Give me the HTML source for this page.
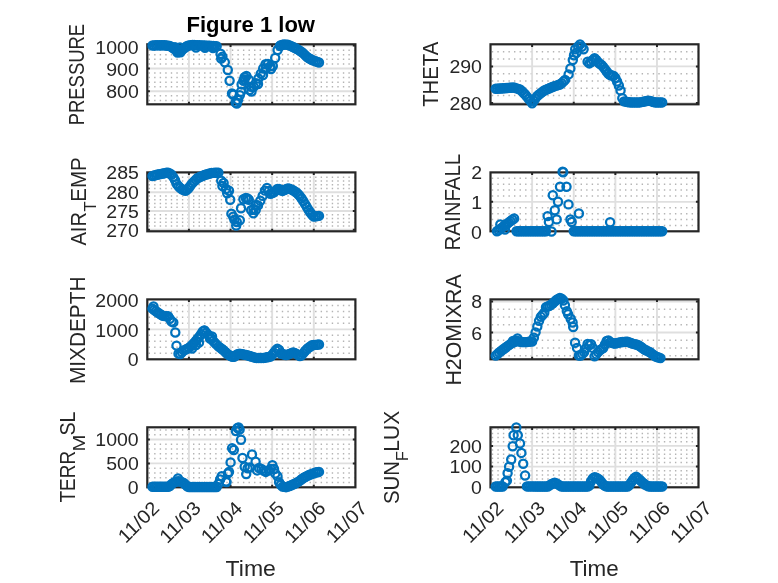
<!DOCTYPE html><html><head><meta charset="utf-8"><style>html,body{margin:0;padding:0;background:#fff;overflow:hidden}svg{display:block;will-change:transform;filter:blur(0.35px)}</style></head><body><svg width="778" height="583" viewBox="0 0 778 583">
<style>.g{stroke:#DFDFDF;stroke-width:1.9;fill:none}.mg{stroke:#B4B4B4;stroke-width:1.5;stroke-dasharray:1.4 4.15;fill:none}.bx{fill:none;stroke:#262626;stroke-width:2.2}.tk{stroke:#262626;stroke-width:2;fill:none}.d circle{fill:none;stroke:#0072BD;stroke-width:2.25}text{font-family:"Liberation Sans",sans-serif;fill:#262626}</style>
<rect width="778" height="583" fill="#fff"/>
<line x1="148.6" y1="100.44" x2="354.4" y2="100.44" class="mg"/>
<line x1="148.6" y1="95.87" x2="354.4" y2="95.87" class="mg"/>
<line x1="148.6" y1="86.73" x2="354.4" y2="86.73" class="mg"/>
<line x1="148.6" y1="82.16" x2="354.4" y2="82.16" class="mg"/>
<line x1="148.6" y1="77.59" x2="354.4" y2="77.59" class="mg"/>
<line x1="148.6" y1="73.02" x2="354.4" y2="73.02" class="mg"/>
<line x1="148.6" y1="63.88" x2="354.4" y2="63.88" class="mg"/>
<line x1="148.6" y1="59.31" x2="354.4" y2="59.31" class="mg"/>
<line x1="148.6" y1="54.74" x2="354.4" y2="54.74" class="mg"/>
<line x1="148.6" y1="50.17" x2="354.4" y2="50.17" class="mg"/>
<line x1="188.92" y1="44.3" x2="188.92" y2="104.3" class="g"/>
<line x1="230.54" y1="44.3" x2="230.54" y2="104.3" class="g"/>
<line x1="272.16" y1="44.3" x2="272.16" y2="104.3" class="g"/>
<line x1="313.78" y1="44.3" x2="313.78" y2="104.3" class="g"/>
<line x1="147.3" y1="91.3" x2="355.4" y2="91.3" class="g"/>
<line x1="147.3" y1="68.45" x2="355.4" y2="68.45" class="g"/>
<line x1="147.3" y1="45.6" x2="355.4" y2="45.6" class="g"/>
<rect x="147.3" y="44.3" width="208.1" height="60" class="bx"/>
<path d="M188.92 104.3v-2.6M188.92 44.3v2.6" class="tk"/>
<path d="M230.54 104.3v-2.6M230.54 44.3v2.6" class="tk"/>
<path d="M272.16 104.3v-2.6M272.16 44.3v2.6" class="tk"/>
<path d="M313.78 104.3v-2.6M313.78 44.3v2.6" class="tk"/>
<path d="M147.3 91.3h2.6M355.4 91.3h-2.6" class="tk"/>
<path d="M147.3 68.45h2.6M355.4 68.45h-2.6" class="tk"/>
<path d="M147.3 45.6h2.6M355.4 45.6h-2.6" class="tk"/>
<g class="d"><circle cx="152.5" cy="45.5" r="4.1"/><circle cx="154.23" cy="45.41" r="4.1"/><circle cx="155.97" cy="45.31" r="4.1"/><circle cx="157.7" cy="45.22" r="4.1"/><circle cx="159.44" cy="45.22" r="4.1"/><circle cx="161.17" cy="45.25" r="4.1"/><circle cx="162.91" cy="45.27" r="4.1"/><circle cx="164.64" cy="45.29" r="4.1"/><circle cx="166.37" cy="45.49" r="4.1"/><circle cx="168.11" cy="45.74" r="4.1"/><circle cx="169.84" cy="45.98" r="4.1"/><circle cx="171.58" cy="47.05" r="4.1"/><circle cx="173.31" cy="48.21" r="4.1"/><circle cx="175.04" cy="49.36" r="4.1"/><circle cx="176.78" cy="50.34" r="4.1"/><circle cx="178.51" cy="51.09" r="4.1"/><circle cx="180.25" cy="50.76" r="4.1"/><circle cx="181.98" cy="50.01" r="4.1"/><circle cx="183.72" cy="48.57" r="4.1"/><circle cx="185.45" cy="47.2" r="4.1"/><circle cx="187.18" cy="46.04" r="4.1"/><circle cx="188.92" cy="45.39" r="4.1"/><circle cx="190.65" cy="45.17" r="4.1"/><circle cx="192.39" cy="45.01" r="4.1"/><circle cx="194.12" cy="45.08" r="4.1"/><circle cx="195.85" cy="45.14" r="4.1"/><circle cx="197.59" cy="45.21" r="4.1"/><circle cx="199.32" cy="45.27" r="4.1"/><circle cx="201.06" cy="45.35" r="4.1"/><circle cx="202.79" cy="45.44" r="4.1"/><circle cx="204.52" cy="45.53" r="4.1"/><circle cx="206.26" cy="45.61" r="4.1"/><circle cx="207.99" cy="45.7" r="4.1"/><circle cx="209.73" cy="45.79" r="4.1"/><circle cx="211.46" cy="45.89" r="4.1"/><circle cx="213.2" cy="46" r="4.1"/><circle cx="214.93" cy="46.11" r="4.1"/><circle cx="216.66" cy="46.22" r="4.1"/><circle cx="246.4" cy="76" r="4.1"/><circle cx="248.8" cy="79.6" r="4.1"/><circle cx="251.2" cy="86.8" r="4.1"/><circle cx="253.6" cy="86.8" r="4.1"/><circle cx="256" cy="83.2" r="4.1"/><circle cx="258.4" cy="78.4" r="4.1"/><circle cx="260.8" cy="73.6" r="4.1"/><circle cx="263.2" cy="68.5" r="4.1"/><circle cx="265.6" cy="64.3" r="4.1"/><circle cx="268" cy="64" r="4.1"/><circle cx="270.4" cy="66.16" r="4.1"/><circle cx="272.8" cy="66" r="4.1"/><circle cx="275.2" cy="58" r="4.1"/><circle cx="277.6" cy="50" r="4.1"/><circle cx="280" cy="46.05" r="4.1"/><circle cx="280.83" cy="45.21" r="4.1"/><circle cx="282.56" cy="44.82" r="4.1"/><circle cx="284.3" cy="44.51" r="4.1"/><circle cx="286.03" cy="44.6" r="4.1"/><circle cx="287.76" cy="44.69" r="4.1"/><circle cx="289.5" cy="45.35" r="4.1"/><circle cx="291.23" cy="46.11" r="4.1"/><circle cx="292.97" cy="46.94" r="4.1"/><circle cx="294.7" cy="47.82" r="4.1"/><circle cx="296.44" cy="48.71" r="4.1"/><circle cx="298.17" cy="49.62" r="4.1"/><circle cx="299.9" cy="50.83" r="4.1"/><circle cx="301.64" cy="52.05" r="4.1"/><circle cx="303.37" cy="53.37" r="4.1"/><circle cx="305.11" cy="55.11" r="4.1"/><circle cx="306.84" cy="56.84" r="4.1"/><circle cx="308.57" cy="57.94" r="4.1"/><circle cx="310.31" cy="58.99" r="4.1"/><circle cx="312.04" cy="60.02" r="4.1"/><circle cx="313.78" cy="60.63" r="4.1"/><circle cx="315.51" cy="61.25" r="4.1"/><circle cx="317.25" cy="61.87" r="4.1"/><circle cx="318.98" cy="62.49" r="4.1"/><circle cx="177.5" cy="52.6" r="4.1"/><circle cx="180.5" cy="52.2" r="4.1"/><circle cx="175" cy="47.2" r="4.1"/><circle cx="180" cy="47.5" r="4.1"/><circle cx="196" cy="47.5" r="4.1"/><circle cx="205" cy="47.8" r="4.1"/><circle cx="213" cy="48" r="4.1"/><circle cx="220.6" cy="53.8" r="4.1"/><circle cx="221.2" cy="58.6" r="4.1"/><circle cx="222.4" cy="56.8" r="4.1"/><circle cx="224.8" cy="62.2" r="4.1"/><circle cx="227.8" cy="70" r="4.1"/><circle cx="229.6" cy="80.8" r="4.1"/><circle cx="232" cy="93.5" r="4.1"/><circle cx="233.2" cy="94.7" r="4.1"/><circle cx="235.6" cy="102.5" r="4.1"/><circle cx="236.8" cy="103.5" r="4.1"/><circle cx="238" cy="100" r="4.1"/><circle cx="239.8" cy="95.3" r="4.1"/><circle cx="241" cy="91.7" r="4.1"/><circle cx="241.6" cy="84.4" r="4.1"/><circle cx="243.4" cy="80.8" r="4.1"/><circle cx="244.6" cy="77.2" r="4.1"/><circle cx="249.5" cy="90" r="4.1"/><circle cx="251.5" cy="91.5" r="4.1"/><circle cx="244.5" cy="79.5" r="4.1"/><circle cx="266" cy="68.5" r="4.1"/><circle cx="271" cy="69" r="4.1"/><circle cx="258" cy="84" r="4.1"/><circle cx="263" cy="75" r="4.1"/></g>
<line x1="491.8" y1="95.6" x2="697.5" y2="95.6" class="mg"/>
<line x1="491.8" y1="88.3" x2="697.5" y2="88.3" class="mg"/>
<line x1="491.8" y1="81" x2="697.5" y2="81" class="mg"/>
<line x1="491.8" y1="73.7" x2="697.5" y2="73.7" class="mg"/>
<line x1="491.8" y1="59.1" x2="697.5" y2="59.1" class="mg"/>
<line x1="491.8" y1="51.8" x2="697.5" y2="51.8" class="mg"/>
<line x1="532.12" y1="44.3" x2="532.12" y2="104.3" class="g"/>
<line x1="573.74" y1="44.3" x2="573.74" y2="104.3" class="g"/>
<line x1="615.36" y1="44.3" x2="615.36" y2="104.3" class="g"/>
<line x1="656.98" y1="44.3" x2="656.98" y2="104.3" class="g"/>
<line x1="490.5" y1="102.9" x2="698.5" y2="102.9" class="g"/>
<line x1="490.5" y1="66.4" x2="698.5" y2="66.4" class="g"/>
<rect x="490.5" y="44.3" width="208" height="60" class="bx"/>
<path d="M532.12 104.3v-2.6M532.12 44.3v2.6" class="tk"/>
<path d="M573.74 104.3v-2.6M573.74 44.3v2.6" class="tk"/>
<path d="M615.36 104.3v-2.6M615.36 44.3v2.6" class="tk"/>
<path d="M656.98 104.3v-2.6M656.98 44.3v2.6" class="tk"/>
<path d="M490.5 102.9h2.6M698.5 102.9h-2.6" class="tk"/>
<path d="M490.5 66.4h2.6M698.5 66.4h-2.6" class="tk"/>
<g class="d"><circle cx="495.7" cy="88.8" r="4.1"/><circle cx="497.43" cy="88.68" r="4.1"/><circle cx="499.17" cy="88.57" r="4.1"/><circle cx="500.9" cy="88.45" r="4.1"/><circle cx="502.64" cy="88.33" r="4.1"/><circle cx="504.37" cy="88.22" r="4.1"/><circle cx="506.1" cy="88.08" r="4.1"/><circle cx="507.84" cy="87.95" r="4.1"/><circle cx="509.57" cy="87.82" r="4.1"/><circle cx="511.31" cy="87.68" r="4.1"/><circle cx="513.04" cy="87.55" r="4.1"/><circle cx="514.78" cy="87.83" r="4.1"/><circle cx="516.51" cy="88.36" r="4.1"/><circle cx="518.24" cy="88.9" r="4.1"/><circle cx="519.98" cy="89.43" r="4.1"/><circle cx="521.71" cy="91.01" r="4.1"/><circle cx="523.45" cy="92.75" r="4.1"/><circle cx="525.18" cy="94.48" r="4.1"/><circle cx="526.91" cy="96.59" r="4.1"/><circle cx="528.65" cy="98.76" r="4.1"/><circle cx="530.38" cy="100.93" r="4.1"/><circle cx="532.12" cy="103.33" r="4.1"/><circle cx="533.85" cy="100.83" r="4.1"/><circle cx="535.59" cy="98.33" r="4.1"/><circle cx="537.32" cy="95.9" r="4.1"/><circle cx="539.05" cy="94.52" r="4.1"/><circle cx="540.79" cy="93.13" r="4.1"/><circle cx="542.52" cy="91.74" r="4.1"/><circle cx="544.26" cy="90.56" r="4.1"/><circle cx="545.99" cy="89.79" r="4.1"/><circle cx="547.73" cy="89.03" r="4.1"/><circle cx="549.46" cy="88.27" r="4.1"/><circle cx="551.19" cy="87.51" r="4.1"/><circle cx="552.93" cy="86.76" r="4.1"/><circle cx="554.66" cy="86.18" r="4.1"/><circle cx="556.4" cy="85.6" r="4.1"/><circle cx="558.13" cy="85.02" r="4.1"/><circle cx="559.86" cy="84.45" r="4.1"/><circle cx="561.6" cy="83.25" r="4.1"/><circle cx="563.33" cy="81.59" r="4.1"/><circle cx="565.07" cy="79.93" r="4.1"/><circle cx="587.61" cy="61.63" r="4.1"/><circle cx="589.34" cy="63.43" r="4.1"/><circle cx="591.08" cy="62.06" r="4.1"/><circle cx="592.81" cy="59.99" r="4.1"/><circle cx="594.55" cy="58.25" r="4.1"/><circle cx="596.28" cy="59.98" r="4.1"/><circle cx="598.02" cy="62.29" r="4.1"/><circle cx="599.75" cy="63.7" r="4.1"/><circle cx="601.48" cy="64.86" r="4.1"/><circle cx="603.22" cy="66.82" r="4.1"/><circle cx="604.95" cy="69.14" r="4.1"/><circle cx="606.69" cy="71.45" r="4.1"/><circle cx="608.42" cy="73.76" r="4.1"/><circle cx="610.15" cy="75.04" r="4.1"/><circle cx="611.89" cy="75.47" r="4.1"/><circle cx="613.62" cy="75.91" r="4.1"/><circle cx="615.36" cy="78.04" r="4.1"/><circle cx="617.09" cy="81.44" r="4.1"/><circle cx="618.83" cy="85.44" r="4.1"/><circle cx="620.56" cy="90.39" r="4.1"/><circle cx="622.29" cy="98.18" r="4.1"/><circle cx="624.03" cy="101.37" r="4.1"/><circle cx="625.76" cy="101.67" r="4.1"/><circle cx="627.5" cy="101.97" r="4.1"/><circle cx="629.23" cy="102.27" r="4.1"/><circle cx="630.96" cy="102.4" r="4.1"/><circle cx="632.7" cy="102.4" r="4.1"/><circle cx="634.43" cy="102.4" r="4.1"/><circle cx="636.17" cy="102.4" r="4.1"/><circle cx="637.9" cy="102.4" r="4.1"/><circle cx="639.64" cy="102.4" r="4.1"/><circle cx="641.37" cy="102.1" r="4.1"/><circle cx="643.1" cy="101.73" r="4.1"/><circle cx="644.84" cy="101.36" r="4.1"/><circle cx="646.57" cy="100.98" r="4.1"/><circle cx="648.31" cy="100.61" r="4.1"/><circle cx="650.04" cy="100.88" r="4.1"/><circle cx="651.77" cy="101.41" r="4.1"/><circle cx="653.51" cy="101.94" r="4.1"/><circle cx="655.24" cy="102.4" r="4.1"/><circle cx="656.98" cy="102.4" r="4.1"/><circle cx="658.71" cy="102.4" r="4.1"/><circle cx="660.45" cy="102.4" r="4.1"/><circle cx="662.18" cy="102.4" r="4.1"/><circle cx="568.6" cy="74.4" r="4.1"/><circle cx="570.4" cy="68.4" r="4.1"/><circle cx="572.8" cy="60" r="4.1"/><circle cx="574" cy="55.2" r="4.1"/><circle cx="576.4" cy="52.8" r="4.1"/><circle cx="575.2" cy="49.2" r="4.1"/><circle cx="580" cy="44.4" r="4.1"/><circle cx="581.8" cy="46.8" r="4.1"/><circle cx="583.6" cy="49.2" r="4.1"/><circle cx="578.2" cy="46.5" r="4.1"/></g>
<line x1="148.6" y1="226.04" x2="354.4" y2="226.04" class="mg"/>
<line x1="148.6" y1="222.28" x2="354.4" y2="222.28" class="mg"/>
<line x1="148.6" y1="218.52" x2="354.4" y2="218.52" class="mg"/>
<line x1="148.6" y1="214.76" x2="354.4" y2="214.76" class="mg"/>
<line x1="148.6" y1="207.24" x2="354.4" y2="207.24" class="mg"/>
<line x1="148.6" y1="203.48" x2="354.4" y2="203.48" class="mg"/>
<line x1="148.6" y1="199.72" x2="354.4" y2="199.72" class="mg"/>
<line x1="148.6" y1="195.96" x2="354.4" y2="195.96" class="mg"/>
<line x1="148.6" y1="188.44" x2="354.4" y2="188.44" class="mg"/>
<line x1="148.6" y1="184.68" x2="354.4" y2="184.68" class="mg"/>
<line x1="148.6" y1="180.92" x2="354.4" y2="180.92" class="mg"/>
<line x1="148.6" y1="177.16" x2="354.4" y2="177.16" class="mg"/>
<line x1="188.92" y1="172.4" x2="188.92" y2="231.3" class="g"/>
<line x1="230.54" y1="172.4" x2="230.54" y2="231.3" class="g"/>
<line x1="272.16" y1="172.4" x2="272.16" y2="231.3" class="g"/>
<line x1="313.78" y1="172.4" x2="313.78" y2="231.3" class="g"/>
<line x1="147.3" y1="229.8" x2="355.4" y2="229.8" class="g"/>
<line x1="147.3" y1="211" x2="355.4" y2="211" class="g"/>
<line x1="147.3" y1="192.2" x2="355.4" y2="192.2" class="g"/>
<rect x="147.3" y="172.4" width="208.1" height="58.9" class="bx"/>
<path d="M188.92 231.3v-2.6M188.92 172.4v2.6" class="tk"/>
<path d="M230.54 231.3v-2.6M230.54 172.4v2.6" class="tk"/>
<path d="M272.16 231.3v-2.6M272.16 172.4v2.6" class="tk"/>
<path d="M313.78 231.3v-2.6M313.78 172.4v2.6" class="tk"/>
<path d="M147.3 229.8h2.6M355.4 229.8h-2.6" class="tk"/>
<path d="M147.3 211h2.6M355.4 211h-2.6" class="tk"/>
<path d="M147.3 192.2h2.6M355.4 192.2h-2.6" class="tk"/>
<g class="d"><circle cx="152.5" cy="176" r="4.1"/><circle cx="154.23" cy="175.53" r="4.1"/><circle cx="155.97" cy="175.05" r="4.1"/><circle cx="157.7" cy="174.58" r="4.1"/><circle cx="159.44" cy="174.21" r="4.1"/><circle cx="161.17" cy="173.87" r="4.1"/><circle cx="162.91" cy="173.52" r="4.1"/><circle cx="164.64" cy="173.17" r="4.1"/><circle cx="166.37" cy="172.83" r="4.1"/><circle cx="168.11" cy="172.84" r="4.1"/><circle cx="169.84" cy="173.54" r="4.1"/><circle cx="171.58" cy="174.78" r="4.1"/><circle cx="173.31" cy="177.12" r="4.1"/><circle cx="175.04" cy="180.19" r="4.1"/><circle cx="176.78" cy="184.12" r="4.1"/><circle cx="178.51" cy="186.28" r="4.1"/><circle cx="180.25" cy="187.97" r="4.1"/><circle cx="181.98" cy="189.2" r="4.1"/><circle cx="183.72" cy="190.09" r="4.1"/><circle cx="185.45" cy="190.8" r="4.1"/><circle cx="187.18" cy="189.57" r="4.1"/><circle cx="188.92" cy="187.74" r="4.1"/><circle cx="190.65" cy="185.35" r="4.1"/><circle cx="192.39" cy="183.12" r="4.1"/><circle cx="194.12" cy="181.42" r="4.1"/><circle cx="195.85" cy="179.71" r="4.1"/><circle cx="197.59" cy="178.01" r="4.1"/><circle cx="199.32" cy="177.25" r="4.1"/><circle cx="201.06" cy="176.5" r="4.1"/><circle cx="202.79" cy="175.74" r="4.1"/><circle cx="204.52" cy="174.99" r="4.1"/><circle cx="206.26" cy="174.48" r="4.1"/><circle cx="207.99" cy="173.97" r="4.1"/><circle cx="209.73" cy="173.46" r="4.1"/><circle cx="211.46" cy="172.99" r="4.1"/><circle cx="213.2" cy="172.9" r="4.1"/><circle cx="214.93" cy="172.81" r="4.1"/><circle cx="216.66" cy="172.71" r="4.1"/><circle cx="218.4" cy="172.62" r="4.1"/><circle cx="248.8" cy="199.8" r="4.1"/><circle cx="251.1" cy="210.1" r="4.1"/><circle cx="253.4" cy="213.2" r="4.1"/><circle cx="255.7" cy="210" r="4.1"/><circle cx="258" cy="205.4" r="4.1"/><circle cx="260.3" cy="200.8" r="4.1"/><circle cx="262.6" cy="195.9" r="4.1"/><circle cx="264.9" cy="190.65" r="4.1"/><circle cx="266.95" cy="188.06" r="4.1"/><circle cx="268.69" cy="190.95" r="4.1"/><circle cx="270.42" cy="193.79" r="4.1"/><circle cx="272.16" cy="193.11" r="4.1"/><circle cx="273.89" cy="192.31" r="4.1"/><circle cx="275.63" cy="190.62" r="4.1"/><circle cx="277.36" cy="188.93" r="4.1"/><circle cx="279.09" cy="189.03" r="4.1"/><circle cx="280.83" cy="190.19" r="4.1"/><circle cx="282.56" cy="190.92" r="4.1"/><circle cx="284.3" cy="190.07" r="4.1"/><circle cx="286.03" cy="189.22" r="4.1"/><circle cx="287.76" cy="188.37" r="4.1"/><circle cx="289.5" cy="188.83" r="4.1"/><circle cx="291.23" cy="189.41" r="4.1"/><circle cx="292.97" cy="190.26" r="4.1"/><circle cx="294.7" cy="191.39" r="4.1"/><circle cx="296.44" cy="192.54" r="4.1"/><circle cx="298.17" cy="194.31" r="4.1"/><circle cx="299.9" cy="196.09" r="4.1"/><circle cx="301.64" cy="198.49" r="4.1"/><circle cx="303.37" cy="201.31" r="4.1"/><circle cx="305.11" cy="204.15" r="4.1"/><circle cx="306.84" cy="207.08" r="4.1"/><circle cx="308.57" cy="210.01" r="4.1"/><circle cx="310.31" cy="212.5" r="4.1"/><circle cx="312.04" cy="214.8" r="4.1"/><circle cx="313.78" cy="216.55" r="4.1"/><circle cx="315.51" cy="216.34" r="4.1"/><circle cx="317.25" cy="216.12" r="4.1"/><circle cx="318.98" cy="215.9" r="4.1"/><circle cx="221.2" cy="180.6" r="4.1"/><circle cx="223.6" cy="183" r="4.1"/><circle cx="222.4" cy="186" r="4.1"/><circle cx="226" cy="189" r="4.1"/><circle cx="229" cy="190.8" r="4.1"/><circle cx="227.2" cy="193.2" r="4.1"/><circle cx="230.2" cy="199.8" r="4.1"/><circle cx="231.4" cy="213.6" r="4.1"/><circle cx="233.2" cy="216.6" r="4.1"/><circle cx="234.4" cy="219.6" r="4.1"/><circle cx="236.8" cy="222" r="4.1"/><circle cx="236.2" cy="225.6" r="4.1"/><circle cx="239.8" cy="220.2" r="4.1"/><circle cx="241" cy="208.2" r="4.1"/><circle cx="243.4" cy="199.2" r="4.1"/><circle cx="245.8" cy="198" r="4.1"/><circle cx="247.5" cy="198.5" r="4.1"/><circle cx="253.5" cy="209" r="4.1"/><circle cx="256" cy="205" r="4.1"/></g>
<line x1="491.8" y1="225.41" x2="697.5" y2="225.41" class="mg"/>
<line x1="491.8" y1="219.52" x2="697.5" y2="219.52" class="mg"/>
<line x1="491.8" y1="213.63" x2="697.5" y2="213.63" class="mg"/>
<line x1="491.8" y1="207.74" x2="697.5" y2="207.74" class="mg"/>
<line x1="491.8" y1="195.96" x2="697.5" y2="195.96" class="mg"/>
<line x1="491.8" y1="190.07" x2="697.5" y2="190.07" class="mg"/>
<line x1="491.8" y1="184.18" x2="697.5" y2="184.18" class="mg"/>
<line x1="491.8" y1="178.29" x2="697.5" y2="178.29" class="mg"/>
<line x1="532.12" y1="172.4" x2="532.12" y2="231.3" class="g"/>
<line x1="573.74" y1="172.4" x2="573.74" y2="231.3" class="g"/>
<line x1="615.36" y1="172.4" x2="615.36" y2="231.3" class="g"/>
<line x1="656.98" y1="172.4" x2="656.98" y2="231.3" class="g"/>
<line x1="490.5" y1="201.85" x2="698.5" y2="201.85" class="g"/>
<rect x="490.5" y="172.4" width="208" height="58.9" class="bx"/>
<path d="M532.12 231.3v-2.6M532.12 172.4v2.6" class="tk"/>
<path d="M573.74 231.3v-2.6M573.74 172.4v2.6" class="tk"/>
<path d="M615.36 231.3v-2.6M615.36 172.4v2.6" class="tk"/>
<path d="M656.98 231.3v-2.6M656.98 172.4v2.6" class="tk"/>
<path d="M490.5 201.85h2.6M698.5 201.85h-2.6" class="tk"/>
<g class="d"><circle cx="516.51" cy="231.3" r="4.1"/><circle cx="518.24" cy="231.3" r="4.1"/><circle cx="519.98" cy="231.3" r="4.1"/><circle cx="521.71" cy="231.3" r="4.1"/><circle cx="523.45" cy="231.3" r="4.1"/><circle cx="525.18" cy="231.3" r="4.1"/><circle cx="526.91" cy="231.3" r="4.1"/><circle cx="528.65" cy="231.3" r="4.1"/><circle cx="530.38" cy="231.3" r="4.1"/><circle cx="532.12" cy="231.3" r="4.1"/><circle cx="533.85" cy="231.3" r="4.1"/><circle cx="535.59" cy="231.3" r="4.1"/><circle cx="537.32" cy="231.3" r="4.1"/><circle cx="539.05" cy="231.3" r="4.1"/><circle cx="540.79" cy="231.3" r="4.1"/><circle cx="542.52" cy="231.3" r="4.1"/><circle cx="544.26" cy="231.3" r="4.1"/><circle cx="545.99" cy="231.3" r="4.1"/><circle cx="573.74" cy="231.3" r="4.1"/><circle cx="575.47" cy="231.3" r="4.1"/><circle cx="577.21" cy="231.3" r="4.1"/><circle cx="578.94" cy="231.3" r="4.1"/><circle cx="580.67" cy="231.3" r="4.1"/><circle cx="582.41" cy="231.3" r="4.1"/><circle cx="584.14" cy="231.3" r="4.1"/><circle cx="585.88" cy="231.3" r="4.1"/><circle cx="587.61" cy="231.3" r="4.1"/><circle cx="589.34" cy="231.3" r="4.1"/><circle cx="591.08" cy="231.3" r="4.1"/><circle cx="592.81" cy="231.3" r="4.1"/><circle cx="594.55" cy="231.3" r="4.1"/><circle cx="596.28" cy="231.3" r="4.1"/><circle cx="598.02" cy="231.3" r="4.1"/><circle cx="599.75" cy="231.3" r="4.1"/><circle cx="601.48" cy="231.3" r="4.1"/><circle cx="603.22" cy="231.3" r="4.1"/><circle cx="604.95" cy="231.3" r="4.1"/><circle cx="606.69" cy="231.3" r="4.1"/><circle cx="608.42" cy="231.3" r="4.1"/><circle cx="610.15" cy="231.3" r="4.1"/><circle cx="611.89" cy="231.3" r="4.1"/><circle cx="613.62" cy="231.3" r="4.1"/><circle cx="615.36" cy="231.3" r="4.1"/><circle cx="617.09" cy="231.3" r="4.1"/><circle cx="618.83" cy="231.3" r="4.1"/><circle cx="620.56" cy="231.3" r="4.1"/><circle cx="622.29" cy="231.3" r="4.1"/><circle cx="624.03" cy="231.3" r="4.1"/><circle cx="625.76" cy="231.3" r="4.1"/><circle cx="627.5" cy="231.3" r="4.1"/><circle cx="629.23" cy="231.3" r="4.1"/><circle cx="630.96" cy="231.3" r="4.1"/><circle cx="632.7" cy="231.3" r="4.1"/><circle cx="634.43" cy="231.3" r="4.1"/><circle cx="636.17" cy="231.3" r="4.1"/><circle cx="637.9" cy="231.3" r="4.1"/><circle cx="639.64" cy="231.3" r="4.1"/><circle cx="641.37" cy="231.3" r="4.1"/><circle cx="643.1" cy="231.3" r="4.1"/><circle cx="644.84" cy="231.3" r="4.1"/><circle cx="646.57" cy="231.3" r="4.1"/><circle cx="648.31" cy="231.3" r="4.1"/><circle cx="650.04" cy="231.3" r="4.1"/><circle cx="651.77" cy="231.3" r="4.1"/><circle cx="653.51" cy="231.3" r="4.1"/><circle cx="655.24" cy="231.3" r="4.1"/><circle cx="656.98" cy="231.3" r="4.1"/><circle cx="658.71" cy="231.3" r="4.1"/><circle cx="660.45" cy="231.3" r="4.1"/><circle cx="662.18" cy="231.3" r="4.1"/><circle cx="496.9" cy="231.3" r="4.1"/><circle cx="498.6" cy="230.2" r="4.1"/><circle cx="500.3" cy="228.9" r="4.1"/><circle cx="502" cy="227.6" r="4.1"/><circle cx="503.7" cy="226.3" r="4.1"/><circle cx="505.4" cy="225" r="4.1"/><circle cx="507.1" cy="223.7" r="4.1"/><circle cx="508.8" cy="222.4" r="4.1"/><circle cx="510.5" cy="221.1" r="4.1"/><circle cx="512.3" cy="219.8" r="4.1"/><circle cx="514.1" cy="218.5" r="4.1"/><circle cx="500.3" cy="224.4" r="4.1"/><circle cx="505" cy="229.6" r="4.1"/><circle cx="547.6" cy="216.1" r="4.1"/><circle cx="548.9" cy="222" r="4.1"/><circle cx="551.5" cy="231.5" r="4.1"/><circle cx="552.8" cy="195.3" r="4.1"/><circle cx="554.8" cy="210.3" r="4.1"/><circle cx="556.7" cy="219.4" r="4.1"/><circle cx="558" cy="201.8" r="4.1"/><circle cx="560" cy="186.8" r="4.1"/><circle cx="562.6" cy="171.8" r="4.1"/><circle cx="563.2" cy="172.3" r="4.1"/><circle cx="566.5" cy="186.8" r="4.1"/><circle cx="568.5" cy="204.4" r="4.1"/><circle cx="570.4" cy="219.4" r="4.1"/><circle cx="571.7" cy="222" r="4.1"/><circle cx="578.9" cy="213.5" r="4.1"/><circle cx="610.1" cy="222.2" r="4.1"/></g>
<line x1="148.6" y1="353.31" x2="354.4" y2="353.31" class="mg"/>
<line x1="148.6" y1="347.32" x2="354.4" y2="347.32" class="mg"/>
<line x1="148.6" y1="341.33" x2="354.4" y2="341.33" class="mg"/>
<line x1="148.6" y1="335.34" x2="354.4" y2="335.34" class="mg"/>
<line x1="148.6" y1="323.36" x2="354.4" y2="323.36" class="mg"/>
<line x1="148.6" y1="317.37" x2="354.4" y2="317.37" class="mg"/>
<line x1="148.6" y1="311.38" x2="354.4" y2="311.38" class="mg"/>
<line x1="148.6" y1="305.39" x2="354.4" y2="305.39" class="mg"/>
<line x1="188.92" y1="299.4" x2="188.92" y2="359.3" class="g"/>
<line x1="230.54" y1="299.4" x2="230.54" y2="359.3" class="g"/>
<line x1="272.16" y1="299.4" x2="272.16" y2="359.3" class="g"/>
<line x1="313.78" y1="299.4" x2="313.78" y2="359.3" class="g"/>
<line x1="147.3" y1="329.35" x2="355.4" y2="329.35" class="g"/>
<rect x="147.3" y="299.4" width="208.1" height="59.9" class="bx"/>
<path d="M188.92 359.3v-2.6M188.92 299.4v2.6" class="tk"/>
<path d="M230.54 359.3v-2.6M230.54 299.4v2.6" class="tk"/>
<path d="M272.16 359.3v-2.6M272.16 299.4v2.6" class="tk"/>
<path d="M313.78 359.3v-2.6M313.78 299.4v2.6" class="tk"/>
<path d="M147.3 329.35h2.6M355.4 329.35h-2.6" class="tk"/>
<g class="d"><circle cx="152.5" cy="308.65" r="4.1"/><circle cx="154.23" cy="309.94" r="4.1"/><circle cx="155.97" cy="311.23" r="4.1"/><circle cx="157.7" cy="312.53" r="4.1"/><circle cx="159.44" cy="313.64" r="4.1"/><circle cx="161.17" cy="314.75" r="4.1"/><circle cx="162.91" cy="315.85" r="4.1"/><circle cx="164.64" cy="316.1" r="4.1"/><circle cx="166.37" cy="316.1" r="4.1"/><circle cx="168.11" cy="316.11" r="4.1"/><circle cx="169.84" cy="318.84" r="4.1"/><circle cx="171.58" cy="321.56" r="4.1"/><circle cx="173.31" cy="322.42" r="4.1"/><circle cx="178.51" cy="353.64" r="4.1"/><circle cx="180.25" cy="354.05" r="4.1"/><circle cx="181.98" cy="352.32" r="4.1"/><circle cx="183.72" cy="350.58" r="4.1"/><circle cx="185.45" cy="349.61" r="4.1"/><circle cx="187.18" cy="348.73" r="4.1"/><circle cx="188.92" cy="347.85" r="4.1"/><circle cx="190.65" cy="346.35" r="4.1"/><circle cx="192.39" cy="344.61" r="4.1"/><circle cx="194.12" cy="342.88" r="4.1"/><circle cx="195.85" cy="340.92" r="4.1"/><circle cx="197.59" cy="338.78" r="4.1"/><circle cx="199.32" cy="336.63" r="4.1"/><circle cx="201.06" cy="334.24" r="4.1"/><circle cx="202.79" cy="331.43" r="4.1"/><circle cx="204.52" cy="330.63" r="4.1"/><circle cx="206.26" cy="332.62" r="4.1"/><circle cx="207.99" cy="334.6" r="4.1"/><circle cx="209.73" cy="336.69" r="4.1"/><circle cx="211.46" cy="338.84" r="4.1"/><circle cx="213.2" cy="340.98" r="4.1"/><circle cx="214.93" cy="342.93" r="4.1"/><circle cx="216.66" cy="344.66" r="4.1"/><circle cx="218.4" cy="346.35" r="4.1"/><circle cx="220.13" cy="347.68" r="4.1"/><circle cx="221.87" cy="349" r="4.1"/><circle cx="223.6" cy="350.32" r="4.1"/><circle cx="225.33" cy="352.03" r="4.1"/><circle cx="227.07" cy="353.77" r="4.1"/><circle cx="228.8" cy="354.99" r="4.1"/><circle cx="230.54" cy="355.84" r="4.1"/><circle cx="232.27" cy="356.7" r="4.1"/><circle cx="234.01" cy="356.71" r="4.1"/><circle cx="235.74" cy="355.51" r="4.1"/><circle cx="237.47" cy="354.31" r="4.1"/><circle cx="239.21" cy="353.73" r="4.1"/><circle cx="240.94" cy="354.03" r="4.1"/><circle cx="242.68" cy="354.34" r="4.1"/><circle cx="244.41" cy="354.64" r="4.1"/><circle cx="246.14" cy="354.95" r="4.1"/><circle cx="247.88" cy="355.39" r="4.1"/><circle cx="249.61" cy="355.96" r="4.1"/><circle cx="251.35" cy="356.53" r="4.1"/><circle cx="253.08" cy="357.1" r="4.1"/><circle cx="254.82" cy="357.67" r="4.1"/><circle cx="256.55" cy="357.9" r="4.1"/><circle cx="258.28" cy="357.9" r="4.1"/><circle cx="260.02" cy="357.9" r="4.1"/><circle cx="261.75" cy="357.9" r="4.1"/><circle cx="263.49" cy="357.9" r="4.1"/><circle cx="265.22" cy="357.66" r="4.1"/><circle cx="266.95" cy="357.31" r="4.1"/><circle cx="268.69" cy="356.96" r="4.1"/><circle cx="270.42" cy="356.62" r="4.1"/><circle cx="272.16" cy="354.97" r="4.1"/><circle cx="273.89" cy="352.67" r="4.1"/><circle cx="275.63" cy="350.47" r="4.1"/><circle cx="277.36" cy="348.74" r="4.1"/><circle cx="279.09" cy="349.99" r="4.1"/><circle cx="280.83" cy="353.46" r="4.1"/><circle cx="282.56" cy="354.04" r="4.1"/><circle cx="284.3" cy="354.49" r="4.1"/><circle cx="286.03" cy="354.95" r="4.1"/><circle cx="287.76" cy="354.62" r="4.1"/><circle cx="289.5" cy="353.9" r="4.1"/><circle cx="291.23" cy="353.18" r="4.1"/><circle cx="292.97" cy="352.46" r="4.1"/><circle cx="294.7" cy="352.87" r="4.1"/><circle cx="296.44" cy="353.92" r="4.1"/><circle cx="298.17" cy="354.97" r="4.1"/><circle cx="299.9" cy="356.02" r="4.1"/><circle cx="301.64" cy="355.33" r="4.1"/><circle cx="303.37" cy="353.17" r="4.1"/><circle cx="305.11" cy="351.01" r="4.1"/><circle cx="306.84" cy="349.07" r="4.1"/><circle cx="308.57" cy="347.77" r="4.1"/><circle cx="310.31" cy="346.47" r="4.1"/><circle cx="312.04" cy="345.2" r="4.1"/><circle cx="313.78" cy="345.02" r="4.1"/><circle cx="315.51" cy="344.85" r="4.1"/><circle cx="317.25" cy="344.68" r="4.1"/><circle cx="318.98" cy="344.5" r="4.1"/><circle cx="175.3" cy="332.5" r="4.1"/><circle cx="176.5" cy="345.6" r="4.1"/><circle cx="204.3" cy="330.5" r="4.1"/><circle cx="210" cy="338.5" r="4.1"/><circle cx="212" cy="336.5" r="4.1"/><circle cx="196" cy="345" r="4.1"/><circle cx="199" cy="342.5" r="4.1"/><circle cx="192" cy="348.5" r="4.1"/><circle cx="153.5" cy="306.5" r="4.1"/></g>
<line x1="491.8" y1="355.67" x2="697.5" y2="355.67" class="mg"/>
<line x1="491.8" y1="347.95" x2="697.5" y2="347.95" class="mg"/>
<line x1="491.8" y1="340.23" x2="697.5" y2="340.23" class="mg"/>
<line x1="491.8" y1="324.77" x2="697.5" y2="324.77" class="mg"/>
<line x1="491.8" y1="317.05" x2="697.5" y2="317.05" class="mg"/>
<line x1="491.8" y1="309.33" x2="697.5" y2="309.33" class="mg"/>
<line x1="532.12" y1="299.4" x2="532.12" y2="359.3" class="g"/>
<line x1="573.74" y1="299.4" x2="573.74" y2="359.3" class="g"/>
<line x1="615.36" y1="299.4" x2="615.36" y2="359.3" class="g"/>
<line x1="656.98" y1="299.4" x2="656.98" y2="359.3" class="g"/>
<line x1="490.5" y1="332.5" x2="698.5" y2="332.5" class="g"/>
<line x1="490.5" y1="301.6" x2="698.5" y2="301.6" class="g"/>
<rect x="490.5" y="299.4" width="208" height="59.9" class="bx"/>
<path d="M532.12 359.3v-2.6M532.12 299.4v2.6" class="tk"/>
<path d="M573.74 359.3v-2.6M573.74 299.4v2.6" class="tk"/>
<path d="M615.36 359.3v-2.6M615.36 299.4v2.6" class="tk"/>
<path d="M656.98 359.3v-2.6M656.98 299.4v2.6" class="tk"/>
<path d="M490.5 332.5h2.6M698.5 332.5h-2.6" class="tk"/>
<path d="M490.5 301.6h2.6M698.5 301.6h-2.6" class="tk"/>
<g class="d"><circle cx="495.7" cy="355.62" r="4.1"/><circle cx="497.43" cy="354.08" r="4.1"/><circle cx="499.17" cy="352.53" r="4.1"/><circle cx="500.9" cy="351.1" r="4.1"/><circle cx="502.64" cy="349.81" r="4.1"/><circle cx="504.37" cy="348.52" r="4.1"/><circle cx="506.1" cy="347.22" r="4.1"/><circle cx="507.84" cy="345.93" r="4.1"/><circle cx="509.57" cy="344.64" r="4.1"/><circle cx="511.31" cy="343.4" r="4.1"/><circle cx="513.04" cy="342.55" r="4.1"/><circle cx="514.78" cy="341.7" r="4.1"/><circle cx="516.51" cy="340.84" r="4.1"/><circle cx="518.24" cy="341.2" r="4.1"/><circle cx="519.98" cy="341.61" r="4.1"/><circle cx="521.71" cy="342.03" r="4.1"/><circle cx="523.45" cy="342.1" r="4.1"/><circle cx="525.18" cy="342.1" r="4.1"/><circle cx="526.91" cy="342.1" r="4.1"/><circle cx="528.65" cy="341.8" r="4.1"/><circle cx="530.38" cy="341.36" r="4.1"/><circle cx="532.12" cy="341.5" r="4.1"/><circle cx="533.85" cy="337.65" r="4.1"/><circle cx="535.59" cy="332.36" r="4.1"/><circle cx="537.32" cy="326.52" r="4.1"/><circle cx="539.05" cy="320.84" r="4.1"/><circle cx="540.79" cy="316.83" r="4.1"/><circle cx="542.52" cy="314.98" r="4.1"/><circle cx="544.26" cy="312.74" r="4.1"/><circle cx="545.99" cy="307.17" r="4.1"/><circle cx="547.73" cy="306.52" r="4.1"/><circle cx="549.46" cy="305.75" r="4.1"/><circle cx="551.19" cy="304.57" r="4.1"/><circle cx="552.93" cy="303.37" r="4.1"/><circle cx="554.66" cy="301.64" r="4.1"/><circle cx="556.4" cy="299.9" r="4.1"/><circle cx="558.13" cy="298.89" r="4.1"/><circle cx="559.86" cy="298.02" r="4.1"/><circle cx="561.6" cy="298.8" r="4.1"/><circle cx="563.33" cy="300.53" r="4.1"/><circle cx="578.94" cy="355.5" r="4.1"/><circle cx="580.67" cy="355.5" r="4.1"/><circle cx="582.41" cy="353.89" r="4.1"/><circle cx="584.14" cy="352.16" r="4.1"/><circle cx="585.88" cy="348.39" r="4.1"/><circle cx="587.61" cy="343.9" r="4.1"/><circle cx="589.34" cy="345.12" r="4.1"/><circle cx="591.08" cy="344.27" r="4.1"/><circle cx="592.81" cy="347.89" r="4.1"/><circle cx="594.55" cy="356.37" r="4.1"/><circle cx="596.28" cy="354.35" r="4.1"/><circle cx="598.02" cy="352" r="4.1"/><circle cx="599.75" cy="350.25" r="4.1"/><circle cx="601.48" cy="349.12" r="4.1"/><circle cx="603.22" cy="347.96" r="4.1"/><circle cx="604.95" cy="344.45" r="4.1"/><circle cx="606.69" cy="340.94" r="4.1"/><circle cx="608.42" cy="340.49" r="4.1"/><circle cx="610.15" cy="342.16" r="4.1"/><circle cx="611.89" cy="342.83" r="4.1"/><circle cx="613.62" cy="343.41" r="4.1"/><circle cx="615.36" cy="343.49" r="4.1"/><circle cx="617.09" cy="343.06" r="4.1"/><circle cx="618.83" cy="342.64" r="4.1"/><circle cx="620.56" cy="342.26" r="4.1"/><circle cx="622.29" cy="342.09" r="4.1"/><circle cx="624.03" cy="341.92" r="4.1"/><circle cx="625.76" cy="341.74" r="4.1"/><circle cx="627.5" cy="341.71" r="4.1"/><circle cx="629.23" cy="342.35" r="4.1"/><circle cx="630.96" cy="342.99" r="4.1"/><circle cx="632.7" cy="343.63" r="4.1"/><circle cx="634.43" cy="344.11" r="4.1"/><circle cx="636.17" cy="344.58" r="4.1"/><circle cx="637.9" cy="345.04" r="4.1"/><circle cx="639.64" cy="346.04" r="4.1"/><circle cx="641.37" cy="347.31" r="4.1"/><circle cx="643.1" cy="348.59" r="4.1"/><circle cx="644.84" cy="349.71" r="4.1"/><circle cx="646.57" cy="350.57" r="4.1"/><circle cx="648.31" cy="351.42" r="4.1"/><circle cx="650.04" cy="352.31" r="4.1"/><circle cx="651.77" cy="353.64" r="4.1"/><circle cx="653.51" cy="354.97" r="4.1"/><circle cx="655.24" cy="356.3" r="4.1"/><circle cx="656.98" cy="356.98" r="4.1"/><circle cx="658.71" cy="357.54" r="4.1"/><circle cx="660.45" cy="358.1" r="4.1"/><circle cx="564.9" cy="305.3" r="4.1"/><circle cx="566.8" cy="311.1" r="4.1"/><circle cx="568.1" cy="314.2" r="4.1"/><circle cx="570.7" cy="318.7" r="4.1"/><circle cx="572.6" cy="322.5" r="4.1"/><circle cx="573.2" cy="327" r="4.1"/><circle cx="575.1" cy="342.8" r="4.1"/><circle cx="577" cy="347.9" r="4.1"/><circle cx="517.5" cy="338.5" r="4.1"/><circle cx="513" cy="341" r="4.1"/></g>
<line x1="148.6" y1="482.52" x2="354.4" y2="482.52" class="mg"/>
<line x1="148.6" y1="477.74" x2="354.4" y2="477.74" class="mg"/>
<line x1="148.6" y1="472.96" x2="354.4" y2="472.96" class="mg"/>
<line x1="148.6" y1="468.18" x2="354.4" y2="468.18" class="mg"/>
<line x1="148.6" y1="458.62" x2="354.4" y2="458.62" class="mg"/>
<line x1="148.6" y1="453.84" x2="354.4" y2="453.84" class="mg"/>
<line x1="148.6" y1="449.06" x2="354.4" y2="449.06" class="mg"/>
<line x1="148.6" y1="444.28" x2="354.4" y2="444.28" class="mg"/>
<line x1="148.6" y1="434.72" x2="354.4" y2="434.72" class="mg"/>
<line x1="148.6" y1="429.94" x2="354.4" y2="429.94" class="mg"/>
<line x1="188.92" y1="427.3" x2="188.92" y2="487.3" class="g"/>
<line x1="230.54" y1="427.3" x2="230.54" y2="487.3" class="g"/>
<line x1="272.16" y1="427.3" x2="272.16" y2="487.3" class="g"/>
<line x1="313.78" y1="427.3" x2="313.78" y2="487.3" class="g"/>
<line x1="147.3" y1="463.4" x2="355.4" y2="463.4" class="g"/>
<line x1="147.3" y1="439.5" x2="355.4" y2="439.5" class="g"/>
<rect x="147.3" y="427.3" width="208.1" height="60" class="bx"/>
<path d="M188.92 487.3v-2.6M188.92 427.3v2.6" class="tk"/>
<path d="M230.54 487.3v-2.6M230.54 427.3v2.6" class="tk"/>
<path d="M272.16 487.3v-2.6M272.16 427.3v2.6" class="tk"/>
<path d="M313.78 487.3v-2.6M313.78 427.3v2.6" class="tk"/>
<path d="M147.3 463.4h2.6M355.4 463.4h-2.6" class="tk"/>
<path d="M147.3 439.5h2.6M355.4 439.5h-2.6" class="tk"/>
<g class="d"><circle cx="152.5" cy="486.8" r="4.1"/><circle cx="154.23" cy="486.8" r="4.1"/><circle cx="155.97" cy="486.8" r="4.1"/><circle cx="157.7" cy="486.8" r="4.1"/><circle cx="159.44" cy="486.8" r="4.1"/><circle cx="161.17" cy="486.8" r="4.1"/><circle cx="162.91" cy="486.8" r="4.1"/><circle cx="164.64" cy="486.8" r="4.1"/><circle cx="166.37" cy="486.8" r="4.1"/><circle cx="168.11" cy="486.8" r="4.1"/><circle cx="169.84" cy="486.07" r="4.1"/><circle cx="171.58" cy="484.1" r="4.1"/><circle cx="173.31" cy="482.88" r="4.1"/><circle cx="175.04" cy="481.99" r="4.1"/><circle cx="176.78" cy="481.39" r="4.1"/><circle cx="178.51" cy="481.13" r="4.1"/><circle cx="180.25" cy="481.38" r="4.1"/><circle cx="181.98" cy="482.17" r="4.1"/><circle cx="183.72" cy="482.96" r="4.1"/><circle cx="185.45" cy="484.57" r="4.1"/><circle cx="187.18" cy="486.22" r="4.1"/><circle cx="188.92" cy="487" r="4.1"/><circle cx="190.65" cy="487" r="4.1"/><circle cx="192.39" cy="487" r="4.1"/><circle cx="194.12" cy="487" r="4.1"/><circle cx="195.85" cy="487" r="4.1"/><circle cx="197.59" cy="487" r="4.1"/><circle cx="199.32" cy="487" r="4.1"/><circle cx="201.06" cy="487" r="4.1"/><circle cx="202.79" cy="487" r="4.1"/><circle cx="204.52" cy="487" r="4.1"/><circle cx="206.26" cy="487" r="4.1"/><circle cx="207.99" cy="487" r="4.1"/><circle cx="209.73" cy="487" r="4.1"/><circle cx="211.46" cy="487" r="4.1"/><circle cx="213.2" cy="487" r="4.1"/><circle cx="214.93" cy="487" r="4.1"/><circle cx="216.66" cy="487" r="4.1"/><circle cx="218.4" cy="484.05" r="4.1"/><circle cx="220.13" cy="479.38" r="4.1"/><circle cx="279.09" cy="482.24" r="4.1"/><circle cx="280.83" cy="484.87" r="4.1"/><circle cx="282.56" cy="486.61" r="4.1"/><circle cx="284.3" cy="486.88" r="4.1"/><circle cx="286.03" cy="487.16" r="4.1"/><circle cx="287.76" cy="486.64" r="4.1"/><circle cx="289.5" cy="485.99" r="4.1"/><circle cx="291.23" cy="485.33" r="4.1"/><circle cx="292.97" cy="484.57" r="4.1"/><circle cx="294.7" cy="483.7" r="4.1"/><circle cx="296.44" cy="482.83" r="4.1"/><circle cx="298.17" cy="481.9" r="4.1"/><circle cx="299.9" cy="480.61" r="4.1"/><circle cx="301.64" cy="479.31" r="4.1"/><circle cx="303.37" cy="478.02" r="4.1"/><circle cx="305.11" cy="477.05" r="4.1"/><circle cx="306.84" cy="476.18" r="4.1"/><circle cx="308.57" cy="475.31" r="4.1"/><circle cx="310.31" cy="474.53" r="4.1"/><circle cx="312.04" cy="473.87" r="4.1"/><circle cx="313.78" cy="473.22" r="4.1"/><circle cx="315.51" cy="472.58" r="4.1"/><circle cx="317.25" cy="472.24" r="4.1"/><circle cx="318.98" cy="471.9" r="4.1"/><circle cx="221.7" cy="476.3" r="4.1"/><circle cx="226.1" cy="481.4" r="4.1"/><circle cx="226.5" cy="482.1" r="4.1"/><circle cx="227.9" cy="473.4" r="4.1"/><circle cx="229" cy="471.9" r="4.1"/><circle cx="230.6" cy="462.4" r="4.1"/><circle cx="232.1" cy="448.2" r="4.1"/><circle cx="233.8" cy="450" r="4.1"/><circle cx="235.9" cy="431" r="4.1"/><circle cx="237.5" cy="428" r="4.1"/><circle cx="238.6" cy="427.4" r="4.1"/><circle cx="239.6" cy="429.6" r="4.1"/><circle cx="241" cy="439.8" r="4.1"/><circle cx="242.5" cy="458" r="4.1"/><circle cx="244.7" cy="466.8" r="4.1"/><circle cx="246.2" cy="474.1" r="4.1"/><circle cx="247.6" cy="468.2" r="4.1"/><circle cx="249.8" cy="467.5" r="4.1"/><circle cx="252" cy="454.4" r="4.1"/><circle cx="255.6" cy="461.7" r="4.1"/><circle cx="257.1" cy="470.4" r="4.1"/><circle cx="259" cy="468" r="4.1"/><circle cx="261.5" cy="469" r="4.1"/><circle cx="263.5" cy="470.5" r="4.1"/><circle cx="265.8" cy="471.9" r="4.1"/><circle cx="268.8" cy="470.4" r="4.1"/><circle cx="270.5" cy="469" r="4.1"/><circle cx="272.4" cy="465.3" r="4.1"/><circle cx="274" cy="469" r="4.1"/><circle cx="275.3" cy="473.4" r="4.1"/><circle cx="277.5" cy="476.3" r="4.1"/><circle cx="178" cy="478.5" r="4.1"/></g>
<line x1="491.8" y1="483.16" x2="697.5" y2="483.16" class="mg"/>
<line x1="491.8" y1="479.02" x2="697.5" y2="479.02" class="mg"/>
<line x1="491.8" y1="474.88" x2="697.5" y2="474.88" class="mg"/>
<line x1="491.8" y1="470.74" x2="697.5" y2="470.74" class="mg"/>
<line x1="491.8" y1="462.46" x2="697.5" y2="462.46" class="mg"/>
<line x1="491.8" y1="458.32" x2="697.5" y2="458.32" class="mg"/>
<line x1="491.8" y1="454.18" x2="697.5" y2="454.18" class="mg"/>
<line x1="491.8" y1="450.04" x2="697.5" y2="450.04" class="mg"/>
<line x1="491.8" y1="441.76" x2="697.5" y2="441.76" class="mg"/>
<line x1="491.8" y1="437.62" x2="697.5" y2="437.62" class="mg"/>
<line x1="491.8" y1="433.48" x2="697.5" y2="433.48" class="mg"/>
<line x1="491.8" y1="429.34" x2="697.5" y2="429.34" class="mg"/>
<line x1="532.12" y1="427.3" x2="532.12" y2="487.3" class="g"/>
<line x1="573.74" y1="427.3" x2="573.74" y2="487.3" class="g"/>
<line x1="615.36" y1="427.3" x2="615.36" y2="487.3" class="g"/>
<line x1="656.98" y1="427.3" x2="656.98" y2="487.3" class="g"/>
<line x1="490.5" y1="466.6" x2="698.5" y2="466.6" class="g"/>
<line x1="490.5" y1="445.9" x2="698.5" y2="445.9" class="g"/>
<rect x="490.5" y="427.3" width="208" height="60" class="bx"/>
<path d="M532.12 487.3v-2.6M532.12 427.3v2.6" class="tk"/>
<path d="M573.74 487.3v-2.6M573.74 427.3v2.6" class="tk"/>
<path d="M615.36 487.3v-2.6M615.36 427.3v2.6" class="tk"/>
<path d="M656.98 487.3v-2.6M656.98 427.3v2.6" class="tk"/>
<path d="M490.5 466.6h2.6M698.5 466.6h-2.6" class="tk"/>
<path d="M490.5 445.9h2.6M698.5 445.9h-2.6" class="tk"/>
<g class="d"><circle cx="495.7" cy="486.5" r="4.1"/><circle cx="497.43" cy="486.5" r="4.1"/><circle cx="499.17" cy="486.5" r="4.1"/><circle cx="500.9" cy="486.5" r="4.1"/><circle cx="502.64" cy="486.5" r="4.1"/><circle cx="526.91" cy="486.4" r="4.1"/><circle cx="528.65" cy="486.41" r="4.1"/><circle cx="530.38" cy="486.42" r="4.1"/><circle cx="532.12" cy="486.43" r="4.1"/><circle cx="533.85" cy="486.43" r="4.1"/><circle cx="535.59" cy="486.44" r="4.1"/><circle cx="537.32" cy="486.45" r="4.1"/><circle cx="539.05" cy="486.46" r="4.1"/><circle cx="540.79" cy="486.47" r="4.1"/><circle cx="542.52" cy="486.47" r="4.1"/><circle cx="544.26" cy="486.48" r="4.1"/><circle cx="545.99" cy="486.49" r="4.1"/><circle cx="547.73" cy="486.5" r="4.1"/><circle cx="549.46" cy="485.43" r="4.1"/><circle cx="551.19" cy="484.21" r="4.1"/><circle cx="552.93" cy="483.36" r="4.1"/><circle cx="554.66" cy="482.68" r="4.1"/><circle cx="556.4" cy="483.52" r="4.1"/><circle cx="558.13" cy="484.4" r="4.1"/><circle cx="559.86" cy="485.67" r="4.1"/><circle cx="561.6" cy="486.5" r="4.1"/><circle cx="563.33" cy="486.5" r="4.1"/><circle cx="565.07" cy="486.5" r="4.1"/><circle cx="566.8" cy="486.5" r="4.1"/><circle cx="568.53" cy="486.5" r="4.1"/><circle cx="570.27" cy="486.5" r="4.1"/><circle cx="572" cy="486.5" r="4.1"/><circle cx="573.74" cy="486.5" r="4.1"/><circle cx="575.47" cy="486.5" r="4.1"/><circle cx="577.21" cy="486.5" r="4.1"/><circle cx="578.94" cy="486.5" r="4.1"/><circle cx="580.67" cy="486.5" r="4.1"/><circle cx="582.41" cy="486.5" r="4.1"/><circle cx="584.14" cy="486.5" r="4.1"/><circle cx="585.88" cy="486.5" r="4.1"/><circle cx="587.61" cy="486.5" r="4.1"/><circle cx="589.34" cy="485.63" r="4.1"/><circle cx="591.08" cy="481.27" r="4.1"/><circle cx="592.81" cy="478.51" r="4.1"/><circle cx="594.55" cy="477.19" r="4.1"/><circle cx="596.28" cy="477.74" r="4.1"/><circle cx="598.02" cy="478.61" r="4.1"/><circle cx="599.75" cy="479.92" r="4.1"/><circle cx="601.48" cy="482.21" r="4.1"/><circle cx="603.22" cy="484.5" r="4.1"/><circle cx="604.95" cy="485.7" r="4.1"/><circle cx="606.69" cy="486.5" r="4.1"/><circle cx="608.42" cy="486.5" r="4.1"/><circle cx="610.15" cy="486.5" r="4.1"/><circle cx="611.89" cy="486.5" r="4.1"/><circle cx="613.62" cy="486.5" r="4.1"/><circle cx="615.36" cy="486.5" r="4.1"/><circle cx="617.09" cy="486.5" r="4.1"/><circle cx="618.83" cy="486.5" r="4.1"/><circle cx="620.56" cy="486.5" r="4.1"/><circle cx="622.29" cy="486.5" r="4.1"/><circle cx="624.03" cy="486.5" r="4.1"/><circle cx="625.76" cy="486.5" r="4.1"/><circle cx="627.5" cy="486.5" r="4.1"/><circle cx="629.23" cy="485.24" r="4.1"/><circle cx="630.96" cy="482.61" r="4.1"/><circle cx="632.7" cy="480.21" r="4.1"/><circle cx="634.43" cy="477.87" r="4.1"/><circle cx="636.17" cy="476.78" r="4.1"/><circle cx="637.9" cy="478.24" r="4.1"/><circle cx="639.64" cy="479.69" r="4.1"/><circle cx="641.37" cy="481.34" r="4.1"/><circle cx="643.1" cy="483.03" r="4.1"/><circle cx="644.84" cy="484.52" r="4.1"/><circle cx="646.57" cy="485.39" r="4.1"/><circle cx="648.31" cy="486.25" r="4.1"/><circle cx="650.04" cy="486.5" r="4.1"/><circle cx="651.77" cy="486.5" r="4.1"/><circle cx="653.51" cy="486.5" r="4.1"/><circle cx="655.24" cy="486.5" r="4.1"/><circle cx="656.98" cy="486.5" r="4.1"/><circle cx="658.71" cy="486.5" r="4.1"/><circle cx="660.45" cy="486.5" r="4.1"/><circle cx="662.18" cy="486.5" r="4.1"/><circle cx="505.4" cy="482.1" r="4.1"/><circle cx="506.9" cy="480.6" r="4.1"/><circle cx="507.6" cy="473.3" r="4.1"/><circle cx="509.1" cy="466.7" r="4.1"/><circle cx="511.2" cy="459.5" r="4.1"/><circle cx="512.7" cy="446.3" r="4.1"/><circle cx="513.6" cy="435.2" r="4.1"/><circle cx="516.3" cy="427.4" r="4.1"/><circle cx="517.8" cy="435.2" r="4.1"/><circle cx="520" cy="443.4" r="4.1"/><circle cx="521.4" cy="452.9" r="4.1"/><circle cx="523.2" cy="463.8" r="4.1"/><circle cx="525.1" cy="475.5" r="4.1"/></g>
<text x="186.47" y="31.8" textLength="128.51" lengthAdjust="spacingAndGlyphs" style="font-size:21.5px;font-weight:bold;fill:#000">Figure 1 low</text>
<text x="225.64" y="575.8" textLength="50.3" lengthAdjust="spacingAndGlyphs" style="font-size:21.5px">Time</text>
<text x="569.65" y="575.8" textLength="48.96" lengthAdjust="spacingAndGlyphs" style="font-size:21.5px">Time</text>
<text transform="translate(84.2,125.27) rotate(-90)" x="0" y="0" textLength="101.34" lengthAdjust="spacingAndGlyphs" style="font-size:21.5px">PRESSURE</text>
<text transform="translate(437.6,106.81) rotate(-90)" x="0" y="0" textLength="64.98" lengthAdjust="spacingAndGlyphs" style="font-size:21.5px">THETA</text>
<text transform="translate(460.2,250.44) rotate(-90)" x="0" y="0" textLength="96.64" lengthAdjust="spacingAndGlyphs" style="font-size:21.5px">RAINFALL</text>
<text transform="translate(84.7,384.07) rotate(-90)" x="0" y="0" textLength="107.58" lengthAdjust="spacingAndGlyphs" style="font-size:21.5px">MIXDEPTH</text>
<text transform="translate(460.8,385.5) rotate(-90)" x="0" y="0" textLength="111.17" lengthAdjust="spacingAndGlyphs" style="font-size:21.5px">H2OMIXRA</text>
<text transform="translate(85.9,245.6) rotate(-90)" x="0" y="0" textLength="33.55" lengthAdjust="spacingAndGlyphs" style="font-size:21.5px">AIR</text>
<text transform="translate(96,211.64) rotate(-90)" x="0" y="0" textLength="10.5" lengthAdjust="spacingAndGlyphs" style="font-size:16.5px">T</text>
<text transform="translate(85.9,201.64) rotate(-90)" x="0" y="0" textLength="44.41" lengthAdjust="spacingAndGlyphs" style="font-size:21.5px">EMP</text>
<text transform="translate(74.8,502.48) rotate(-90)" x="0" y="0" textLength="51.57" lengthAdjust="spacingAndGlyphs" style="font-size:21.5px">TERR</text>
<text transform="translate(85.1,451.61) rotate(-90)" x="0" y="0" textLength="16.79" lengthAdjust="spacingAndGlyphs" style="font-size:16.5px">M</text>
<text transform="translate(74.8,435.58) rotate(-90)" x="0" y="0" textLength="24.04" lengthAdjust="spacingAndGlyphs" style="font-size:21.5px">SL</text>
<text transform="translate(398.9,504.12) rotate(-90)" x="0" y="0" textLength="43.08" lengthAdjust="spacingAndGlyphs" style="font-size:21.5px">SUN</text>
<text transform="translate(407.9,461.34) rotate(-90)" x="0" y="0" textLength="10.22" lengthAdjust="spacingAndGlyphs" style="font-size:16.5px">F</text>
<text transform="translate(398.9,451.68) rotate(-90)" x="0" y="0" textLength="40.81" lengthAdjust="spacingAndGlyphs" style="font-size:21.5px">LUX</text>
<text x="106.24" y="97.64" textLength="32.51" lengthAdjust="spacingAndGlyphs" style="font-size:19.1px">800</text>
<text x="106.24" y="75.78" textLength="32.51" lengthAdjust="spacingAndGlyphs" style="font-size:19.1px">900</text>
<text x="95.33" y="53.73" textLength="43.34" lengthAdjust="spacingAndGlyphs" style="font-size:19.1px">1000</text>
<text x="449.44" y="109.98" textLength="32.51" lengthAdjust="spacingAndGlyphs" style="font-size:19.1px">280</text>
<text x="449.44" y="73.19" textLength="32.51" lengthAdjust="spacingAndGlyphs" style="font-size:19.1px">290</text>
<text x="106.24" y="237.28" textLength="32.51" lengthAdjust="spacingAndGlyphs" style="font-size:19.1px">270</text>
<text x="106.34" y="218.09" textLength="32.51" lengthAdjust="spacingAndGlyphs" style="font-size:19.1px">275</text>
<text x="106.24" y="198.88" textLength="32.51" lengthAdjust="spacingAndGlyphs" style="font-size:19.1px">280</text>
<text x="106.34" y="178.99" textLength="32.51" lengthAdjust="spacingAndGlyphs" style="font-size:19.1px">285</text>
<text x="471.07" y="238.78" textLength="10.84" lengthAdjust="spacingAndGlyphs" style="font-size:19.1px">0</text>
<text x="471.26" y="208.69" textLength="10.84" lengthAdjust="spacingAndGlyphs" style="font-size:19.1px">1</text>
<text x="471.36" y="178.78" textLength="10.84" lengthAdjust="spacingAndGlyphs" style="font-size:19.1px">2</text>
<text x="127.87" y="366.38" textLength="10.84" lengthAdjust="spacingAndGlyphs" style="font-size:19.1px">0</text>
<text x="95.33" y="336.88" textLength="43.34" lengthAdjust="spacingAndGlyphs" style="font-size:19.1px">1000</text>
<text x="95.33" y="306.99" textLength="43.34" lengthAdjust="spacingAndGlyphs" style="font-size:19.1px">2000</text>
<text x="471.17" y="339.69" textLength="10.84" lengthAdjust="spacingAndGlyphs" style="font-size:19.1px">6</text>
<text x="471.17" y="308.13" textLength="10.84" lengthAdjust="spacingAndGlyphs" style="font-size:19.1px">8</text>
<text x="127.87" y="493.79" textLength="10.84" lengthAdjust="spacingAndGlyphs" style="font-size:19.1px">0</text>
<text x="106.24" y="470.19" textLength="32.51" lengthAdjust="spacingAndGlyphs" style="font-size:19.1px">500</text>
<text x="95.33" y="445.88" textLength="43.34" lengthAdjust="spacingAndGlyphs" style="font-size:19.1px">1000</text>
<text x="471.07" y="493.58" textLength="10.84" lengthAdjust="spacingAndGlyphs" style="font-size:19.1px">0</text>
<text x="449.44" y="472.99" textLength="32.51" lengthAdjust="spacingAndGlyphs" style="font-size:19.1px">100</text>
<text x="449.44" y="453.08" textLength="32.51" lengthAdjust="spacingAndGlyphs" style="font-size:19.1px">200</text>
<text transform="translate(125.7,544) rotate(-45)" x="0" y="0" textLength="49.16" lengthAdjust="spacingAndGlyphs" style="font-size:19.1px">11/02</text>
<text transform="translate(167.18,544.14) rotate(-45)" x="0" y="0" textLength="49.16" lengthAdjust="spacingAndGlyphs" style="font-size:19.1px">11/03</text>
<text transform="translate(208.65,544.29) rotate(-45)" x="0" y="0" textLength="49.16" lengthAdjust="spacingAndGlyphs" style="font-size:19.1px">11/04</text>
<text transform="translate(250.42,544.14) rotate(-45)" x="0" y="0" textLength="49.16" lengthAdjust="spacingAndGlyphs" style="font-size:19.1px">11/05</text>
<text transform="translate(292.04,544.14) rotate(-45)" x="0" y="0" textLength="49.16" lengthAdjust="spacingAndGlyphs" style="font-size:19.1px">11/06</text>
<text transform="translate(333.8,544) rotate(-45)" x="0" y="0" textLength="49.16" lengthAdjust="spacingAndGlyphs" style="font-size:19.1px">11/07</text>
<text transform="translate(470,544) rotate(-45)" x="0" y="0" textLength="49.16" lengthAdjust="spacingAndGlyphs" style="font-size:19.1px">11/02</text>
<text transform="translate(511.48,544.14) rotate(-45)" x="0" y="0" textLength="49.16" lengthAdjust="spacingAndGlyphs" style="font-size:19.1px">11/03</text>
<text transform="translate(552.95,544.29) rotate(-45)" x="0" y="0" textLength="49.16" lengthAdjust="spacingAndGlyphs" style="font-size:19.1px">11/04</text>
<text transform="translate(594.72,544.14) rotate(-45)" x="0" y="0" textLength="49.16" lengthAdjust="spacingAndGlyphs" style="font-size:19.1px">11/05</text>
<text transform="translate(636.34,544.14) rotate(-45)" x="0" y="0" textLength="49.16" lengthAdjust="spacingAndGlyphs" style="font-size:19.1px">11/06</text>
<text transform="translate(678.1,544) rotate(-45)" x="0" y="0" textLength="49.16" lengthAdjust="spacingAndGlyphs" style="font-size:19.1px">11/07</text>
</svg></body></html>
